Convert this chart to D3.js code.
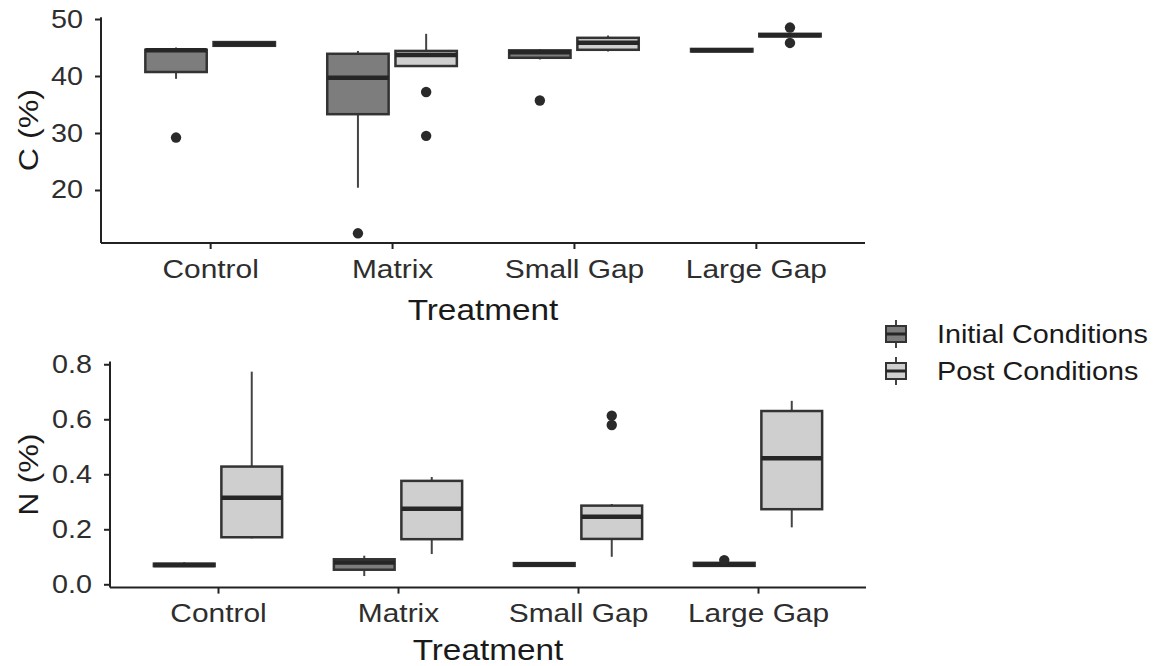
<!DOCTYPE html>
<html lang="en">
<head>
    <meta charset="utf-8">
    <title>C and N by treatment</title>
    <script src="https://d3js.org/d3.v7.min.js" charset="utf-8"></script>
    <style type="text/css">
        body { margin: 0; background: #fff; }
        text { font-family: 'Liberation Sans', Arial, sans-serif; }
        .axis path, .axis line { stroke: #222; stroke-width: 2px; }
        .axis text { fill: #2e2e2e; }
    </style>
</head>
<body>
    <script type="text/javascript">

        var treatments = ["Control", "Matrix", "Small Gap", "Large Gap"];
        var conditions = ["Initial Conditions", "Post Conditions"];

        // five numbers per box: [lower whisker, q1, median, q3, upper whisker]
        var cInitial = [[39.5, 40.7, 44.5, 44.6, 45.0], [20.4, 33.3, 39.7, 43.9, 44.4], [42.9, 43.2, 44.15, 44.5, 44.7], [44.3, 44.3, 44.5, 44.75, 44.8]];
        var cPost = [[45.3, 45.3, 45.6, 45.95, 46.0], [41.75, 41.75, 43.7, 44.4, 47.4], [44.3, 44.6, 45.85, 46.7, 47.1], [46.95, 46.95, 47.15, 47.4, 47.4]];
        var cInitialOut = [[29.2], [12.4], [35.7], []];
        var cPostOut = [[], [37.2, 29.5], [], [48.5, 45.8]];

        var nInitial = [[0.066, 0.066, 0.070, 0.075, 0.080], [0.030, 0.053, 0.079, 0.091, 0.104], [0.067, 0.067, 0.072, 0.077, 0.077], [0.067, 0.067, 0.072, 0.078, 0.078]];
        var nPost = [[0.167, 0.171, 0.315, 0.428, 0.773], [0.110, 0.164, 0.275, 0.376, 0.390], [0.100, 0.165, 0.246, 0.286, 0.292], [0.207, 0.273, 0.458, 0.630, 0.667]];
        var nInitialOut = [[], [], [], [0.088]];
        var nPostOut = [[], [], [0.613, 0.579], []];

        var cTicks = [20, 30, 40, 50];
        var nTicks = [0.0, 0.2, 0.4, 0.6, 0.8];

        var fills = ["#7d7d7d", "#cfcfcf"];
        var stretch = 1.15; // the labels in the picture are drawn wider than Arial

        var svg = d3.select("body").append("svg")
            .attr("width", 1160)
            .attr("height", 666);

        // widen a text around its anchor x
        function widen(text) {
            text.each(function () {
                var x = +d3.select(this).attr("x") || 0;
                d3.select(this).attr("transform", "translate(" + (x * (1 - stretch)) + ",0) scale(" + stretch + ",1)");
            });
        }

        function panel(opt) {
            var x = d3.scalePoint()
                .domain(treatments)
                .range(opt.xRange)
                .padding(0.6);
            var step = x.step();
            var dodge = d3.scaleBand()
                .domain(conditions)
                .range([-0.375 * step, 0.375 * step]);
            var bw = dodge.bandwidth() * 0.9;
            var y = d3.scaleLinear()
                .domain(opt.yDomain)
                .range(opt.yRange);

            var g = svg.append("g");

            [opt.initial, opt.post].forEach(function (series, si) {
                var outs = si == 0 ? opt.initialOut : opt.postOut;
                series.forEach(function (s, i) {
                    var cx = x(treatments[i]) + dodge(conditions[si]) + dodge.bandwidth() / 2;
                    // whiskers
                    g.append("line")
                        .attr("x1", cx).attr("x2", cx)
                        .attr("y1", y(s[0])).attr("y2", y(s[1]))
                        .attr("stroke", "#444").attr("stroke-width", 2);
                    g.append("line")
                        .attr("x1", cx).attr("x2", cx)
                        .attr("y1", y(s[3])).attr("y2", y(s[4]))
                        .attr("stroke", "#444").attr("stroke-width", 2);
                    g.append("rect")
                        .attr("x", cx - bw / 2)
                        .attr("y", y(s[3]))
                        .attr("width", bw)
                        .attr("height", y(s[1]) - y(s[3]))
                        .attr("fill", fills[si])
                        .attr("stroke", "#333")
                        .attr("stroke-width", 2.5);
                    g.append("line")
                        .attr("x1", cx - bw / 2).attr("x2", cx + bw / 2)
                        .attr("y1", y(s[2])).attr("y2", y(s[2]))
                        .attr("stroke", "#262626").attr("stroke-width", 4.5);
                    g.selectAll(null)
                        .data(outs[i])
                        .enter()
                        .append("circle")
                        .attr("cx", cx)
                        .attr("cy", function (d) { return y(d); })
                        .attr("r", 5.2)
                        .attr("fill", "#2a2a2a");
                });
            });

            var ya = svg.append("g")
                .attr("class", "axis")
                .attr("transform", "translate(" + opt.xRange[0] + ",0)")
                .call(d3.axisLeft(y).tickValues(opt.ticks).tickFormat(opt.format)
                    .tickSize(6).tickSizeOuter(0).tickPadding(12));
            ya.selectAll("text").attr("font-size", 25).call(widen);

            var xa = svg.append("g")
                .attr("class", "axis")
                .attr("transform", "translate(0," + opt.yRange[0] + ")")
                .call(d3.axisBottom(x).tickSize(6).tickSizeOuter(0).tickPadding(opt.xPad));
            xa.selectAll("text").attr("font-size", 26).call(widen);
            xa.select(".domain").attr("d", "M" + opt.xRange[0] + ",0H" + opt.xRange[1]);
            ya.select(".domain").attr("d", "M0," + opt.yRange[0] + "V" + opt.yRange[1]);

            svg.append("text")
                .attr("x", 0).attr("y", 0)
                .attr("transform", "translate(" + ((opt.xRange[0] + opt.xRange[1]) / 2) + "," + opt.titleY + ") scale(" + stretch + ",1)")
                .attr("text-anchor", "middle")
                .attr("font-size", 29)
                .attr("fill", "#1a1a1a")
                .text("Treatment");

            svg.append("text")
                .attr("x", 0).attr("y", 0)
                .attr("transform", "translate(38," + ((opt.yRange[0] + opt.yRange[1]) / 2) + ") rotate(-90) scale(" + stretch + ",1)")
                .attr("text-anchor", "middle")
                .attr("font-size", 28)
                .attr("fill", "#1a1a1a")
                .text(opt.yTitle);
        }

        panel({
            xRange: [101, 865], yRange: [243, 17.3], yDomain: [10.7, 50.3],
            ticks: cTicks, format: d3.format("d"), xPad: 11, titleY: 320,
            initial: cInitial, post: cPost, initialOut: cInitialOut, postOut: cPostOut,
            yTitle: "C (%)"
        });

        panel({
            xRange: [110, 866], yRange: [587.6, 361.5], yDomain: [-0.012, 0.81],
            ticks: nTicks, format: d3.format(".1f"), xPad: 10, titleY: 660,
            initial: nInitial, post: nPost, initialOut: nInitialOut, postOut: nPostOut,
            yTitle: "N (%)"
        });

        // legend
        var legend = svg.append("g");
        conditions.forEach(function (c, i) {
            var cy = 334 + i * 37;
            legend.append("line")
                .attr("x1", 896).attr("x2", 896)
                .attr("y1", cy - 14).attr("y2", cy + 14)
                .attr("stroke", "#444").attr("stroke-width", 2);
            legend.append("rect")
                .attr("x", 886).attr("y", cy - 8)
                .attr("width", 20).attr("height", 16)
                .attr("fill", fills[i])
                .attr("stroke", "#333").attr("stroke-width", 2);
            legend.append("line")
                .attr("x1", 886).attr("x2", 906)
                .attr("y1", cy).attr("y2", cy)
                .attr("stroke", "#262626").attr("stroke-width", 3);
            legend.append("text")
                .attr("x", 0).attr("y", 0)
                .attr("dy", "0.35em")
                .attr("transform", "translate(937," + cy + ") scale(" + stretch + ",1)")
                .attr("font-size", 25)
                .attr("fill", "#1a1a1a")
                .text(c);
        });

    </script>
</body>
</html>
